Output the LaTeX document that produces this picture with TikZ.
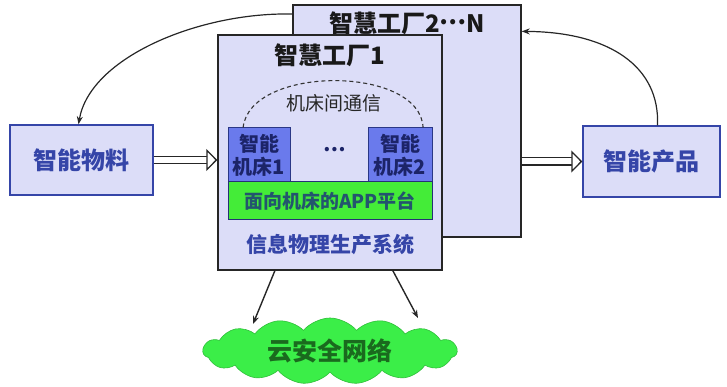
\documentclass[tikz,border=0pt]{standalone}
\usepackage{fontspec}
\newfontfamily\cjk{Noto Sans CJK SC}
\usetikzlibrary{arrows.meta,shapes.symbols}
\definecolor{lav}{HTML}{DCDDF8}
\definecolor{sideblue}{HTML}{3545A8}
\definecolor{mach}{HTML}{6A7AEC}
\definecolor{machtext}{HTML}{1C2468}
\definecolor{appgreen}{HTML}{44EC38}
\definecolor{apptext}{HTML}{23556E}
\definecolor{cloudgreen}{HTML}{3BEE48}
\definecolor{cloudtext}{HTML}{1A6A1E}
\tikzset{
  factory/.style={draw=black!85, line width=1.4pt, fill=lav},
  sidebox/.style={draw=sideblue, line width=1.4pt, fill=lav, text=sideblue,
    font=\cjk\bfseries\fontsize{24}{26}\selectfont},
  machbox/.style={draw=sideblue!80!black, line width=1pt, fill=mach, text=machtext,
    align=center, font=\cjk\bfseries\fontsize{20}{23}\selectfont, inner sep=0pt},
  title/.style={font=\cjk\bfseries\fontsize{24}{26}\selectfont, text=black!90},
  flow/.style={line width=1.3pt, double=white, double distance=6pt, draw=black!85,
    -{Triangle[fill=white, length=11pt, width=22pt, line width=1.3pt]}},
  curvearrow/.style={line width=1.2pt, draw=black!85, -{Stealth[length=8pt,width=6pt]}},
  netarrow/.style={line width=1.4pt, draw=black!85, -{Stealth[length=8pt,width=6pt]}},
}
\begin{document}
\begin{tikzpicture}[x=1pt,y=1pt]
\useasboundingbox (0,0) rectangle (727,387);
% factory boxes
\node[factory, minimum width=228pt, minimum height=232pt] (back) at (407,266) {};
\node[title, anchor=center] (t2) at (407,364) {智慧工厂2\raisebox{0.3em}{…}N};
\node[factory, minimum width=224pt, minimum height=235pt] (front) at (330,234.5) {};
\node[title] (t1) at (330,332) {智慧工厂1};
% machines
\node[machbox, minimum width=62pt, minimum height=54pt] (m1) at (259,232) {智能\\机床1};
\node[machbox, minimum width=64pt, minimum height=54pt] (m2) at (400,232) {智能\\机床2};
\node[font=\cjk\bfseries\fontsize{20}{22}\selectfont, text=machtext] (dots) at (335,237) {…};
\node[draw=sideblue!70!black, line width=1pt, fill=appgreen, minimum width=204pt, minimum height=38pt,
  text=apptext, font=\cjk\bfseries\fontsize{19}{21}\selectfont, inner sep=0pt] (app) at (330,186) {面向机床的APP平台};
\node[text=sideblue, font=\cjk\bfseries\fontsize{21}{23}\selectfont] (cps) at (330,142) {信息物理生产系统};
\draw[line width=1.1pt, dashed, dash pattern=on 4pt off 3pt, black!80] (m1.120) .. controls (250,322) and (420,322) .. (m2.50);
\node[font=\cjk\fontsize{19}{21}\selectfont, text=black!85] (comm) at (334,284) {机床间通信};
% side boxes
\node[sidebox, minimum width=143pt, minimum height=70pt] (mat) at (81.5,227) {智能物料};
\node[sidebox, minimum width=137pt, minimum height=71pt] (prod) at (651.5,225.5) {智能产品};
\draw[flow] (mat.east) -- (mat.east -| front.west);
\draw[flow] (back.east |- prod.west) -- (prod.west);
% curved arrows
\draw[curvearrow] (back.137) .. controls (200,375) and (90,330) .. ([xshift=-3pt]mat.north);
\draw[curvearrow] ([xshift=6pt]prod.north) .. controls (660,320) and (610,355) .. (back.38);
% cloud
\node[cloud, cloud puffs=15, cloud puff arc=100, cloud ignores aspect, draw=cloudgreen!80!black,
  line width=0.6pt, fill=cloudgreen, minimum width=254pt, minimum height=66pt, inner sep=0pt,
  text=cloudtext, font=\cjk\bfseries\fontsize{25}{27}\selectfont] (cloud) at (330,36) {云安全网络};
\coordinate (n1) at (253,63);
\coordinate (n2) at (418,69);
\draw[netarrow] (front.245) -- (n1);
\draw[netarrow] (front.298) -- (n2);
\end{tikzpicture}
\end{document}
